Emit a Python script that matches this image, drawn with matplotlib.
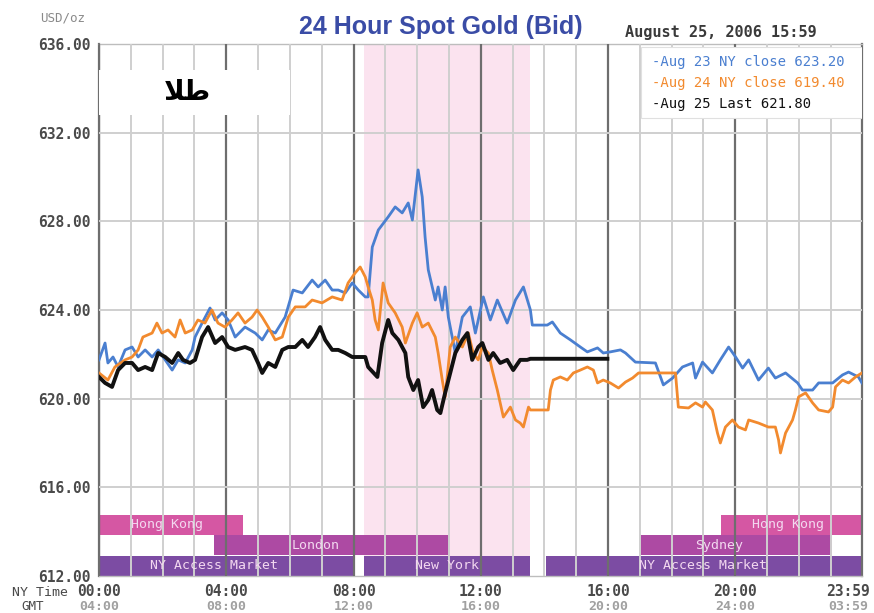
import matplotlib
matplotlib.use("Agg")
import matplotlib.pyplot as plt
import matplotlib.transforms as mtransforms

# ---------------- data ----------------
blue_hours = [0.00, 0.19, 0.28, 0.44, 0.60, 0.82, 1.04, 1.23, 1.45, 1.67, 1.86, 2.08, 2.30, 2.49, 2.71,
              2.93, 3.02, 3.24, 3.49, 3.65, 3.87, 4.06, 4.28, 4.59, 4.91, 5.13, 5.32, 5.54, 5.85, 6.10,
              6.39, 6.70, 6.89, 7.11, 7.33, 7.52, 7.74, 7.96, 8.15, 8.37, 8.46, 8.59, 8.78, 9.09, 9.31,
              9.53, 9.72, 9.85, 10.03, 10.16, 10.25, 10.35, 10.57, 10.66, 10.79, 10.88, 10.98, 11.20,
              11.42, 11.67, 11.83, 12.08, 12.30, 12.52, 12.83, 13.09, 13.34, 13.56, 13.62, 14.09, 14.25,
              14.50, 14.82, 15.13, 15.35, 15.67, 15.85, 16.07, 16.39, 16.55, 16.86, 17.49, 17.74, 18.03,
              18.34, 18.66, 18.75, 18.97, 19.28, 19.53, 19.79, 20.01, 20.23, 20.42, 20.73, 21.04, 21.26,
              21.58, 21.96, 22.11, 22.43, 22.62, 23.06, 23.37, 23.56, 23.87, 23.98]
blue_vals = [621.75, 622.51, 621.61, 621.88, 621.43, 622.20, 622.33, 621.88, 622.20, 621.88, 622.20,
             621.75, 621.29, 621.75, 621.61, 622.20, 622.78, 623.41, 624.09, 623.55, 623.87, 623.55,
             622.78, 623.23, 622.96, 622.65, 623.10, 622.96, 623.68, 624.90, 624.77, 625.35, 625.04,
             625.35, 624.90, 624.90, 624.77, 625.22, 624.90, 624.59, 624.59, 626.84, 627.61, 628.20,
             628.65, 628.38, 628.83, 628.06, 630.32, 629.10, 627.29, 625.81, 624.45, 625.04, 624.00,
             625.04, 623.68, 622.06, 623.68, 624.14, 622.96, 624.59, 623.55, 624.45, 623.41, 624.45,
             625.04, 624.00, 623.32, 623.32, 623.46, 622.96, 622.65, 622.33, 622.11, 622.29, 622.06,
             622.11, 622.20, 622.06, 621.65, 621.61, 620.62, 620.93, 621.43, 621.61, 620.93, 621.65,
             621.16, 621.75, 622.33, 621.88, 621.38, 621.75, 620.84, 621.38, 620.93, 621.16, 620.71,
             620.39, 620.39, 620.71, 620.71, 621.07, 621.20, 620.98, 620.71]

orange_hours = [0.00, 0.28, 0.50, 0.82, 1.04, 1.23, 1.38, 1.67, 1.82, 1.98, 2.17, 2.39, 2.55, 2.71, 2.93,
                3.11, 3.33, 3.55, 3.74, 3.96, 4.18, 4.37, 4.59, 4.81, 4.97, 5.13, 5.32, 5.54, 5.76, 5.95,
                6.17, 6.48, 6.70, 7.01, 7.33, 7.64, 7.83, 8.05, 8.21, 8.37, 8.46, 8.59, 8.68, 8.78, 8.93,
                9.09, 9.31, 9.53, 9.63, 9.85, 10.00, 10.16, 10.35, 10.57, 10.66, 10.79, 10.88, 11.04,
                11.20, 11.42, 11.61, 11.76, 11.92, 12.05, 12.24, 12.36, 12.52, 12.71, 12.93, 13.09, 13.24,
                13.34, 13.50, 13.56, 14.12, 14.19, 14.28, 14.50, 14.72, 14.91, 15.13, 15.35, 15.54, 15.67,
                15.85, 16.07, 16.33, 16.55, 16.77, 16.96, 17.17, 18.12, 18.21, 18.53, 18.75, 18.97, 19.06,
                19.28, 19.44, 19.53, 19.69, 19.91, 20.10, 20.32, 20.42, 20.73, 21.04, 21.26, 21.36, 21.42,
                21.58, 21.80, 21.89, 21.99, 22.21, 22.43, 22.62, 22.93, 23.06, 23.15, 23.37, 23.56, 23.78,
                23.98]
orange_vals = [621.16, 620.84, 621.43, 621.75, 621.88, 622.20, 622.78, 622.96, 623.41, 622.96, 623.10,
               622.78, 623.55, 622.96, 623.10, 623.55, 623.41, 624.00, 623.41, 623.23, 623.55, 623.87,
               623.41, 623.68, 624.00, 623.68, 623.23, 622.65, 622.78, 623.68, 624.14, 624.14, 624.45,
               624.32, 624.59, 624.45, 625.22, 625.67, 625.94, 625.49, 625.04, 624.45, 623.55, 623.10,
               625.22, 624.32, 623.87, 623.23, 622.51, 623.41, 623.87, 623.23, 623.41, 622.78, 622.06,
               620.84, 620.08, 622.33, 622.78, 622.33, 622.96, 622.06, 621.75, 622.33, 622.06, 621.29,
               620.39, 619.17, 619.62, 619.04, 618.90, 618.72, 619.62, 619.49, 619.49, 620.39, 620.84,
               620.98, 620.84, 621.16, 621.29, 621.43, 621.29, 620.71, 620.84, 620.71, 620.48, 620.75,
               620.93, 621.16, 621.16, 621.16, 619.62, 619.58, 619.81, 619.62, 619.85, 619.49, 618.45,
               618.00, 618.72, 619.04, 618.72, 618.59, 619.04, 618.90, 618.72, 618.72, 618.14, 617.55,
               618.45, 619.04, 619.49, 620.08, 620.26, 619.81, 619.49, 619.40, 619.62, 620.53, 620.84,
               620.71, 620.98, 621.16]

black_hours = [0.00, 0.19, 0.41, 0.60, 0.82, 1.04, 1.23, 1.45, 1.67, 1.86, 2.08, 2.30, 2.49, 2.64, 2.86,
               3.02, 3.24, 3.43, 3.65, 3.87, 4.06, 4.28, 4.59, 4.81, 5.00, 5.13, 5.32, 5.54, 5.76, 5.95,
               6.17, 6.39, 6.57, 6.79, 6.95, 7.11, 7.33, 7.52, 7.74, 7.96, 8.15, 8.37, 8.46, 8.75, 8.90,
               9.09, 9.22, 9.41, 9.63, 9.72, 9.88, 10.03, 10.19, 10.35, 10.47, 10.63, 10.73, 10.88, 11.04,
               11.20, 11.42, 11.58, 11.73, 11.92, 12.05, 12.24, 12.39, 12.61, 12.83, 13.02, 13.24, 13.46,
               13.56, 15.98]
black_vals = [620.98, 620.71, 620.53, 621.29, 621.61, 621.61, 621.29, 621.43, 621.29, 622.06, 621.88,
              621.61, 622.06, 621.75, 621.61, 621.75, 622.78, 623.23, 622.51, 622.78, 622.33, 622.20,
              622.33, 622.20, 621.61, 621.16, 621.61, 621.43, 622.20, 622.33, 622.33, 622.65, 622.33,
              622.78, 623.23, 622.65, 622.20, 622.20, 622.06, 621.88, 621.88, 621.88, 621.43, 620.98,
              622.51, 623.55, 622.96, 622.65, 622.06, 620.98, 620.39, 620.84, 619.62, 619.94, 620.39,
              619.49, 619.35, 620.26, 621.16, 622.06, 622.65, 622.96, 621.75, 622.33, 622.51, 621.75,
              622.06, 621.61, 621.75, 621.29, 621.75, 621.75, 621.80, 621.80]

legend_labels = ["-Aug 23 NY close 623.20", "-Aug 24 NY close 619.40", "-Aug 25 Last 621.80"]
y_ticks = [612, 616, 620, 624, 628, 632, 636]
x_ticks = [0, 4, 8, 12, 16, 20, 23.983]
x_tick_labels = ["00:00", "04:00", "08:00", "12:00", "16:00", "20:00", "23:59"]
gmt_labels = ["04:00", "08:00", "12:00", "16:00", "20:00", "24:00", "03:59"]

# trading sessions: name, start hour, end hour, row, label hour
sess_names = ["Hong Kong", "London", "NY Access Market", "New York", "NY Access Market", "Sydney", "Hong Kong"]
sess_start = [0.0, 3.6, 0.0, 8.33, 14.05, 17.05, 19.55]
sess_end = [4.53, 11.0, 8.0, 13.55, 23.983, 23.05, 23.983]
sess_row = [2, 1, 0, 0, 0, 1, 2]
sess_label_h = [2.14, 6.82, 3.62, 10.95, 18.97, 19.5, 21.65]

comex_span = (8.33, 13.55)

# ---------------- figure ----------------
W, H = 874, 613
fig = plt.figure(figsize=(W / 100, H / 100), dpi=100)
fig.patch.set_facecolor("white")
ax = fig.add_axes([99 / W, 1 - 576 / H, (862 - 99) / W, (576 - 44) / H])
ax.set_xlim(0, 23.983)
ax.set_ylim(612, 636)

mono = "DejaVu Sans Mono"

# pink New York trading shade
ax.axvspan(comex_span[0], comex_span[1], color="#fbe3ef", zorder=0, lw=0)

# session bars
row_colors = {2: "#d557a3", 1: "#ad4aa3", 0: "#7c4ca3"}
row_base = {0: 612.0, 1: 612.93, 2: 613.85}
row_h = 0.92
for name, s, e, r, lh in zip(sess_names, sess_start, sess_end, sess_row, sess_label_h):
    ax.bar(s, row_h, width=e - s, bottom=row_base[r], align="edge",
           color=row_colors[r], lw=0, zorder=1)
    ax.text(lh, row_base[r] + row_h / 2, name, ha="center", va="center",
            fontsize=9.5, family=mono, color="#f3d8f0", zorder=6)

# grid lines
for h in range(0, 24):
    if h % 4 == 0:
        ax.axvline(h, color="#6e6e6e", lw=1.6, zorder=3)
    else:
        ax.axvline(h, color="#cfcfcf", lw=1.4, zorder=3)
for v in y_ticks[1:-1]:
    ax.axhline(v, color="#cfcfcf", lw=1.4, zorder=3)

for sp in ["left", "right"]:
    ax.spines[sp].set_color("#6e6e6e")
    ax.spines[sp].set_linewidth(1.6)
for sp in ["top", "bottom"]:
    ax.spines[sp].set_color("#bdbdbd")
    ax.spines[sp].set_linewidth(1.0)

# white boxes
ax.add_patch(plt.Rectangle((0.0, 632.80), 6.0, 2.03, facecolor="white", edgecolor="none", zorder=4))
ax.add_patch(plt.Rectangle((17.05, 632.66), 23.983 - 17.05, 3.2, facecolor="white",
                           edgecolor="#e0e0e0", lw=0.8, zorder=4))

# series
ax.plot(blue_hours, blue_vals, color="#4a7fd0", lw=2.0, zorder=5)
ax.plot(orange_hours, orange_vals, color="#f28a2e", lw=2.0, zorder=5)
ax.plot(black_hours, black_vals, color="#111111", lw=2.8, zorder=6)

# legend texts
leg_colors = ["#4a7fd0", "#f28a2e", "#111111"]
for i, (lab, c) in enumerate(zip(legend_labels, leg_colors)):
    fig.text(652 / W, 1 - (62 + 21 * i) / H, lab, ha="left", va="center",
             fontsize=10, family=mono, color=c)

# Persian label "طلا" (presentation forms in visual order)
ax.text(2.77, 633.85, "\uFEFC\uFEC3", ha="center", va="center", fontsize=20,
        family="DejaVu Sans", fontweight="bold", color="black", zorder=7)

# ticks
ax.set_yticks(y_ticks)
ax.set_yticklabels([f"{v:.2f}" for v in y_ticks], family=mono, fontweight="bold",
                   fontsize=10.5, color="#4a4a4a")
ax.set_xticks(x_ticks)
ax.set_xticklabels([])
ax.tick_params(axis="both", length=0)
ax.tick_params(axis="y", pad=6)

trans = mtransforms.blended_transform_factory(ax.transData, fig.transFigure)
label_x = list(x_ticks[:-1]) + [23.55]
for xv, lab, glab in zip(label_x, x_tick_labels, gmt_labels):
    ax.text(xv, 1 - 592 / H, lab, transform=trans, ha="center", va="center",
            family=mono, fontweight="bold", fontsize=10.5, color="#4a4a4a")
    ax.text(xv, 1 - 606.5 / H, glab, transform=trans, ha="center", va="center",
            family=mono, fontweight="bold", fontsize=9.5, color="#a0a0a0")

fig.text(40 / W, 1 - 592 / H, "NY Time", ha="center", va="center", family=mono,
         fontsize=9.5, color="#4a4a4a")
fig.text(33 / W, 1 - 606.5 / H, "GMT", ha="center", va="center", family=mono,
         fontsize=9, color="#4a4a4a")
fig.text(63 / W, 1 - 18 / H, "USD/oz", ha="center", va="center", family=mono,
         fontsize=9, color="#8a8a8a")

# titles
fig.text(441 / W, 1 - 27 / H, "24 Hour Spot Gold (Bid)", ha="center", va="center",
         family="Liberation Sans", fontweight="bold", fontsize=18, color="#3a4ca6")
fig.text(721 / W, 1 - 32 / H, "August 25, 2006 15:59", ha="center", va="center",
         family=mono, fontweight="bold", fontsize=11, color="#3a3a3a")

fig.savefig("out.png", dpi=100)
